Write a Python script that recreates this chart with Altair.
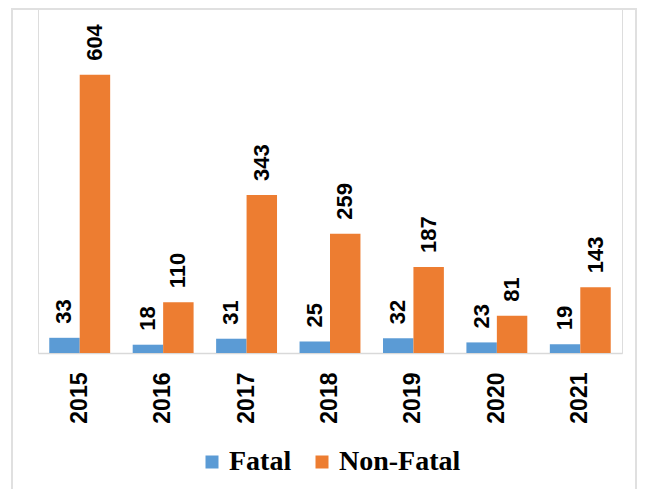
import altair as alt
import pandas as pd

years = ["2015", "2016", "2017", "2018", "2019", "2020", "2021"]
fatal = [33, 18, 31, 25, 32, 23, 19]
non_fatal = [604, 110, 343, 259, 187, 81, 143]
series = ["Fatal", "Non-Fatal"]
colors = ["#5B9BD5", "#ED7D31"]

rows = []
for i, y in enumerate(years):
    rows.append({"year": y, "type": "Fatal", "value": fatal[i]})
    rows.append({"year": y, "type": "Non-Fatal", "value": non_fatal[i]})
df = pd.DataFrame(rows)

x_enc = alt.X("year:N", sort=years, title=None,
              scale=alt.Scale(paddingInner=0.27, paddingOuter=0.135),
              axis=alt.Axis(labelAngle=270, labelFont="Liberation Sans", labelFontWeight="bold",
                            labelFontSize=23, labelColor="#000000", labelPadding=19,
                            ticks=False, domainColor="#D9D9D9", domainWidth=1.5))
xoff = alt.XOffset("type:N", sort=series, scale=alt.Scale(paddingInner=0, paddingOuter=0))
y_enc = alt.Y("value:Q", scale=alt.Scale(domain=[0, 747], nice=False), axis=None)

bars = alt.Chart(df).mark_bar().encode(
    x=x_enc, xOffset=xoff, y=y_enc,
    color=alt.Color("type:N", sort=series, scale=alt.Scale(domain=series, range=colors),
                    legend=alt.Legend(title=None, orient="none", legendX=160, legendY=439,
                                      direction="horizontal", symbolType="square",
                                      symbolSize=169, symbolStrokeWidth=0,
                                      labelFont="Liberation Serif", labelFontWeight="bold",
                                      labelFontSize=28, labelColor="#000000",
                                      labelOffset=3, columnPadding=16)),
)

labels = alt.Chart(df).mark_text(angle=270, align="left", baseline="middle", dx=14,
                                 font="Liberation Sans", fontWeight="bold", fontSize=22,
                                 color="#000000").encode(
    x=alt.X("year:N", sort=years), xOffset=xoff, y=y_enc, text="value:Q"
)

border = alt.Chart(pd.DataFrame({"a": [0]})).mark_rect(
    fill=None, stroke="#E0E0E0", strokeWidth=2
).encode(x=alt.value(-26), x2=alt.value(598), y=alt.value(0), y2=alt.value(520))

chart = alt.layer(border, bars, labels).properties(
    width=584, height=344,
    autosize=alt.AutoSizeParams(type="none"),
    padding={"left": 30, "top": 1, "right": 16, "bottom": 136},
).configure_view(stroke=None).configure(background="#FFFFFF")

chart.save("out.html", embed_options={"renderer": "svg", "actions": False})
